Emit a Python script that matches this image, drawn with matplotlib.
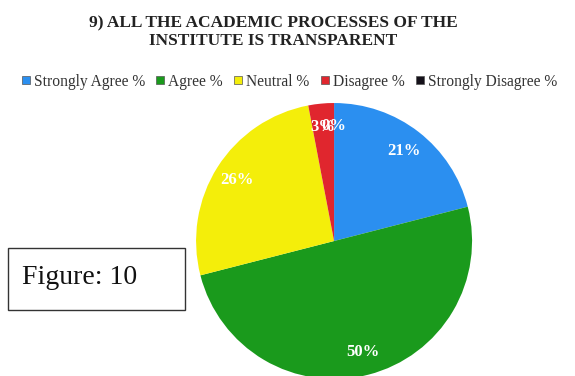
import matplotlib.pyplot as plt
from matplotlib.patches import Rectangle
from matplotlib.lines import Line2D

categories = ['Strongly Agree %', 'Agree %', 'Neutral %', 'Disagree %', 'Strongly Disagree %']
values = [21, 50, 26, 3, 0]
colors = ['#2b8ff0', '#1a9a1c', '#f4ee0a', '#e0262e', '#15111a']
title = '9) ALL THE ACADEMIC PROCESSES OF THE\nINSTITUTE IS TRANSPARENT'

plt.rcParams['font.family'] = ['Liberation Serif', 'DejaVu Serif']

fig = plt.figure(figsize=(5.75, 3.76), dpi=100)
fig.patch.set_facecolor('white')

fig.text(0.475, 0.958, title, ha='center', va='top', fontsize=12.5,
         fontweight='bold', color='#222222', linespacing=1.1)

# pie
ax = fig.add_axes([0.341, -0.008, 0.48, 0.734])
wedges, texts, autotexts = ax.pie(
    values, colors=colors, startangle=90, counterclock=False,
    autopct=lambda p: f'{p:.0f}%', pctdistance=0.83,
    wedgeprops=dict(linewidth=0),
    textprops=dict(color='white', fontweight='bold', fontsize=12))
ax.set_xlim(-1, 1)
ax.set_ylim(-1, 1)
ax.set_aspect('equal')
ax.axis('off')

handles = [Line2D([], [], marker='s', linestyle='none', markersize=6,
                  markerfacecolor=c, markeredgecolor='#555555', markeredgewidth=0.5)
           for c in colors]
fig.legend(handles, categories, loc='center', bbox_to_anchor=(0.5, 0.783),
           ncol=5, frameon=False, fontsize=11.2, handletextpad=0.0,
           columnspacing=0.5, handlelength=1.0, labelcolor='#333333')

# figure number box
fig.patches.append(Rectangle((8 / 575, 1 - 310 / 376), 177 / 575, 62 / 376,
                             transform=fig.transFigure, fill=False,
                             edgecolor='#333333', linewidth=1.0))
fig.text(22 / 575, 1 - 278 / 376, 'Figure: 10', ha='left', va='center',
         fontsize=20, color='#111111')

fig.savefig('out.png', dpi=100)
